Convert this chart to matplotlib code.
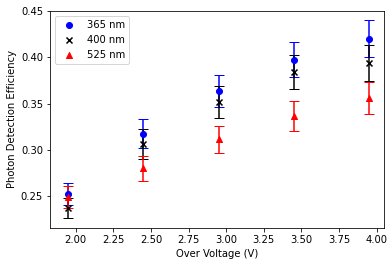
import numpy as np
import matplotlib
matplotlib.use("Agg")
import matplotlib.pyplot as plt

# Over voltage (V)
voltage = [1.95, 2.45, 2.95, 3.45, 3.95]

# Photon detection efficiency per wavelength, with errors
pde_365 = [0.252, 0.3175, 0.3634, 0.3975, 0.420]
err_365 = [0.0121, 0.0153, 0.0171, 0.0193, 0.0202]
pde_400 = [0.2369, 0.3058, 0.3519, 0.3838, 0.394]
err_400 = [0.0111, 0.0162, 0.0171, 0.0186, 0.0193]
pde_525 = [0.2491, 0.2802, 0.3115, 0.3362, 0.3557]
err_525 = [0.0119, 0.0134, 0.0146, 0.0161, 0.0175]

fig = plt.figure(figsize=(392 / 72, 266 / 72), dpi=72)
ax = fig.add_axes([50 / 392, 1 - 228 / 266, (384 - 50) / 392, (228 - 11) / 266])

series = [
    (pde_365, err_365, "blue", "o", "365 nm"),
    (pde_400, err_400, "black", "x", "400 nm"),
    (pde_525, err_525, "red", "^", "525 nm"),
]
for vals, errs, col, mk, lab in series:
    ax.scatter(voltage, vals, color=col, marker=mk, label=lab, zorder=3)
    ax.errorbar(voltage, vals, yerr=errs, fmt="none", ecolor=col, capsize=5, zorder=2)

ax.set_xlim(1.829, 4.049)
ax.set_ylim(0.2155, 0.45)
ax.set_xlabel("Over Voltage (V)")
ax.set_ylabel("Photon Detection Efficiency")
ax.legend(loc="upper left")

fig.savefig("out.png", dpi=72)
